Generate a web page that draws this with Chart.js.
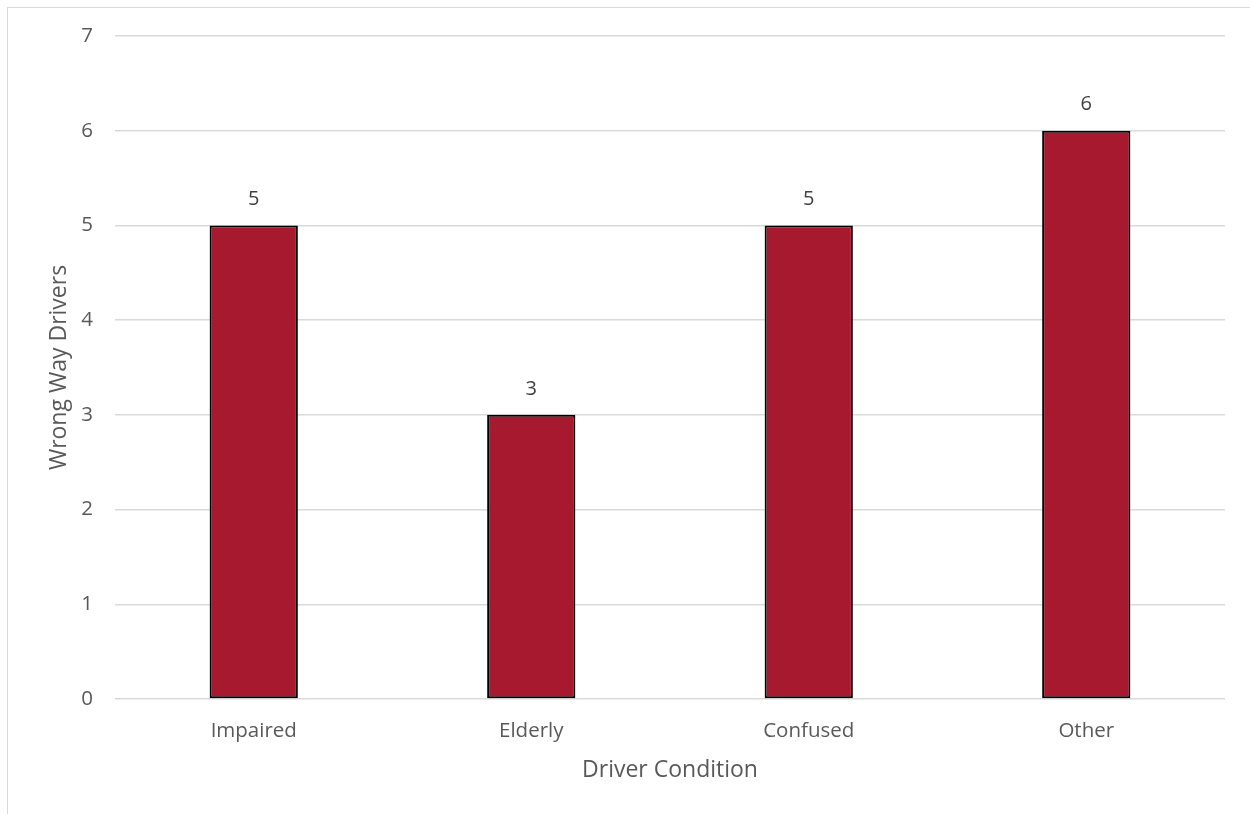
<!DOCTYPE html>
<html>
<head>
<meta charset="utf-8">
<script src="https://cdn.jsdelivr.net/npm/chart.js@4.4.1/dist/chart.umd.min.js"></script>
<style>
    html, body { margin: 0; padding: 0; background: #ffffff; overflow: hidden; }
    #frame {
        position: absolute; left: 7px; top: 7px; width: 1300px; height: 900px;
        border: 1.5px solid #d9d9d9; box-sizing: border-box;
    }
    #wrap { position: absolute; left: 0; top: 0; width: 1250px; height: 814px; }
</style>
</head>
<body>
<div id="frame"></div>
<div id="wrap"><canvas id="driverChart"></canvas></div>
<script>
const conditions = ['Impaired', 'Elderly', 'Confused', 'Other'];
const driverCounts = [5, 3, 5, 6];
const yTicks = [0, 1, 2, 3, 4, 5, 6, 7];

const textGray = '#595959';
const gridGray = '#d9d9d9';
const barRed = '#a6192e';
const fontFamily = "'Open Sans', 'DejaVu Sans', sans-serif";

// value labels above each bar
const valueLabels = {
    id: 'valueLabels',
    afterDatasetsDraw(chart) {
        const ctx = chart.ctx;
        const meta = chart.getDatasetMeta(0);
        const yScale = chart.scales.y;
        ctx.save();
        ctx.font = '20px ' + fontFamily;
        ctx.fillStyle = '#404040';
        ctx.textAlign = 'center';
        ctx.textBaseline = 'middle';
        meta.data.forEach((bar, i) => {
            const top = yScale.getPixelForValue(driverCounts[i]);
            ctx.fillText(String(driverCounts[i]), bar.x, top - 26);
        });
        ctx.restore();
    }
};

const ctx = document.getElementById('driverChart').getContext('2d');
const chart = new Chart(ctx, {
    type: 'bar',
    data: {
        labels: conditions,
        datasets: [{
            label: 'Wrong Way Drivers',
            data: driverCounts,
            backgroundColor: barRed,
            borderColor: '#000000',
            borderWidth: 2,
            borderSkipped: false,
            barPercentage: 0.318,
            categoryPercentage: 1.0,
        }],
    },
    options: {
        responsive: true,
        maintainAspectRatio: false,
        animation: false,
        layout: { padding: { top: 36, right: 25, bottom: 0, left: 0 } },
        plugins: {
            legend: { display: false },
            tooltip: { enabled: false },
        },
        scales: {
            x: {
                grid: { display: false, drawTicks: false },
                border: { display: false },
                ticks: {
                    color: textGray,
                    font: { family: fontFamily, size: 20.5 },
                    padding: 20,
                },
                title: {
                    display: true,
                    text: 'Driver Condition',
                    color: textGray,
                    font: { family: fontFamily, size: 23 },
                    padding: { top: 0, bottom: 30 },
                },
                afterFit(scale) { scale.height = 115; },
            },
            y: {
                min: 0,
                max: 7,
                afterBuildTicks(scale) { scale.ticks = yTicks.map(v => ({ value: v })); },
                grid: { color: gridGray, lineWidth: 1.5, drawTicks: false },
                border: { display: false },
                ticks: {
                    color: textGray,
                    font: { family: fontFamily, size: 20.5 },
                    padding: 22,
                },
                title: {
                    display: true,
                    text: 'Wrong Way Drivers',
                    color: textGray,
                    font: { family: fontFamily, size: 23 },
                    padding: { top: 46, bottom: 0 },
                },
                afterFit(scale) { scale.width = 115; },
            },
        },
    },
    plugins: [valueLabels],
});
</script>
</body>
</html>
